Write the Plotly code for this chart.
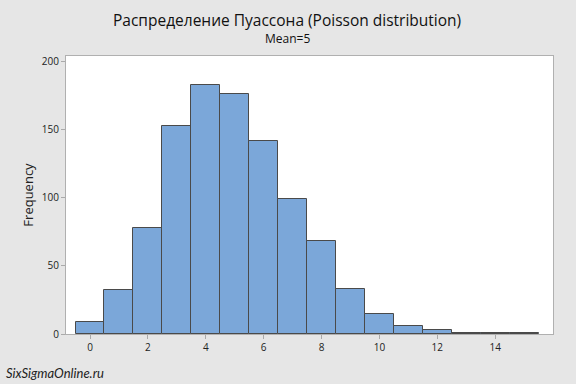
import plotly.graph_objects as go

values = list(range(16))
counts = [9, 32, 78, 153, 183, 176, 142, 99, 68, 33, 15, 6, 3, 1, 1, 1]
x_ticks = [0, 2, 4, 6, 8, 10, 12, 14]
y_ticks = [0, 50, 100, 150, 200]

FONT = "Open Sans"
W, H = 576, 384
L, R, T, B = 66, 23, 56, 50
pw, ph = W - L - R, H - T - B

fig = go.Figure()
fig.add_trace(go.Bar(
    x=values, y=counts, width=1,
    marker=dict(color="#7BA7D9", line=dict(color="#4a4a4a", width=1)),
))

fig.update_layout(
    width=W, height=H,
    paper_bgcolor="#e6e6e6", plot_bgcolor="white",
    margin=dict(l=L, r=R, t=T, b=B, autoexpand=False),
    showlegend=False,
    font=dict(family=FONT, color="#222222"),
    bargap=0,
)
cx = (287 - L) / pw
fig.add_annotation(text="Распределение Пуассона (Poisson distribution)", x=cx, y=1 + (T - 20) / ph,
                   xref="paper", yref="paper", yanchor="middle", showarrow=False,
                   font=dict(size=15.5, color="#111111"))
fig.add_annotation(text="Mean=5", x=cx, y=1 + (T - 39) / ph, xref="paper", yref="paper",
                   yanchor="middle", showarrow=False, font=dict(size=12, color="#111111"))
fig.add_annotation(text="<i>SixSigmaOnline.ru</i>", x=-(L - 4) / pw, xanchor="left",
                   y=-(373 - (H - B)) / ph, yanchor="middle", xref="paper", yref="paper",
                   showarrow=False, font=dict(size=13, color="#222222", family="Lato"))

fig.update_xaxes(range=[-0.83, 16.0], tickvals=x_ticks, ticks="outside", ticklen=4,
                 tickcolor="#aaaaaa", tickfont=dict(size=10), showgrid=False, zeroline=False,
                 showline=True, linecolor="#b0b0b0", mirror=True, linewidth=1, automargin=False)
fig.update_yaxes(range=[0, 204.2], tickvals=y_ticks, ticks="outside", ticklen=4,
                 tickcolor="#aaaaaa", tickfont=dict(size=10), showgrid=False, zeroline=False,
                 showline=True, linecolor="#b0b0b0", mirror=True, linewidth=1, automargin=False,
                 title=dict(text="Frequency", font=dict(size=13), standoff=5))

fig.write_html("out.html", config={"displayModeBar": False},
               post_script="document.body.style.margin='0';document.body.style.background='#e6e6e6';")
